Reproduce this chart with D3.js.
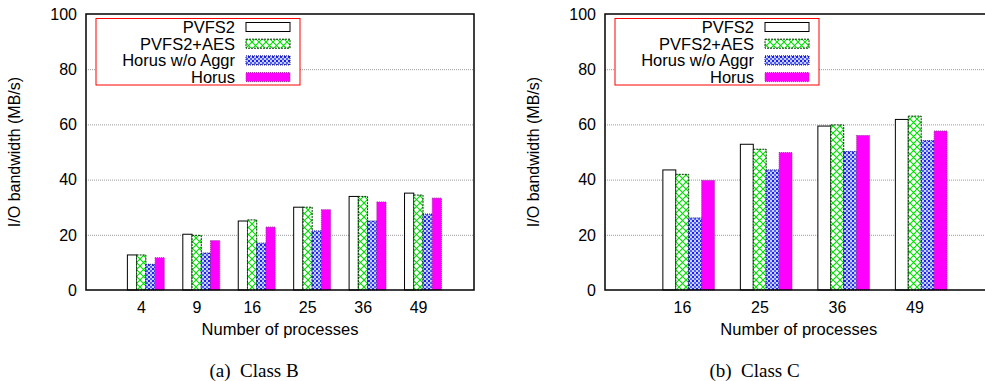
<!DOCTYPE html>
<html>
<head>
<meta charset="utf-8">
<script src="https://cdn.jsdelivr.net/npm/d3@7/dist/d3.min.js"></script>
<style>
  body { margin: 0; background: #fff; }
  text { font-family: "Liberation Sans", Arial, sans-serif; fill: #000; }
</style>
</head>
<body>
<div id="chart"></div>
<script>
// series and values
const seriesNames = ['PVFS2', 'PVFS2+AES', 'Horus w/o Aggr', 'Horus'];

const classBProcs = ['4', '9', '16', '25', '36', '49'];
const classBPvfs2 = [12.7, 20.2, 25.0, 30.0, 33.9, 35.1];
const classBPvfs2Aes = [12.7, 19.8, 25.4, 30.0, 33.9, 34.4];
const classBHorusNoAggr = [9.3, 13.4, 17.0, 21.4, 25.0, 27.5];
const classBHorus = [11.7, 17.9, 22.8, 29.1, 31.9, 33.3];

const classCProcs = ['16', '25', '36', '49'];
const classCPvfs2 = [43.5, 52.8, 59.4, 61.8];
const classCPvfs2Aes = [41.9, 51.0, 59.8, 63.0];
const classCHorusNoAggr = [26.1, 43.5, 50.2, 54.1];
const classCHorus = [39.7, 49.8, 56.0, 57.6];

const yTicks = [0, 20, 40, 60, 80, 100];

const W = 985, H = 381;

const svg = d3.select('#chart')
  .append('svg')
  .attr('width', W)
  .attr('height', H);

// fill patterns like gnuplot's
const defs = svg.append('defs');

const pg = defs.append('pattern')
  .attr('id', 'pat-green')
  .attr('patternUnits', 'userSpaceOnUse')
  .attr('width', 7).attr('height', 7);
pg.append('rect').attr('width', 7).attr('height', 7).attr('fill', '#fff');
pg.append('path').attr('d', 'M0,0L7,7M7,0L0,7')
  .attr('stroke', '#00e000').attr('stroke-width', 1.1);

const pb = defs.append('pattern')
  .attr('id', 'pat-blue')
  .attr('patternUnits', 'userSpaceOnUse')
  .attr('width', 4).attr('height', 4);
pb.append('rect').attr('width', 4).attr('height', 4).attr('fill', '#c8d0ff');
pb.append('rect').attr('width', 2).attr('height', 2).attr('fill', '#2020f0');
pb.append('rect').attr('x', 2).attr('y', 2).attr('width', 2).attr('height', 2).attr('fill', '#5060ff');

const styles = [
  { fill: '#fff', stroke: '#000', dash: null },
  { fill: 'url(#pat-green)', stroke: '#003300', dash: '2,1' },
  { fill: 'url(#pat-blue)', stroke: '#000088', dash: '1,1' },
  { fill: '#ff00ff', stroke: '#993399', dash: '1,1' }
];

function drawPanel(cfg) {
  const { left, right, top, bottom, procs, series, caption } = cfg;
  const n = procs.length;

  const x = d3.scaleLinear().domain([-1, n]).range([left, right]);
  const y = d3.scaleLinear().domain([0, 100]).range([bottom, top]);
  const unit = x(1) - x(0);
  const barW = unit / 6;
  const off = 0.08; // cluster sits a little right of its label

  const g = svg.append('g');

  // dotted grid
  g.append('g')
    .attr('transform', `translate(${left},0)`)
    .call(d3.axisLeft(y).tickValues([20, 40, 60, 80]).tickSize(-(right - left)).tickFormat(''))
    .call(s => s.select('.domain').remove())
    .selectAll('line')
    .attr('stroke', '#999')
    .attr('stroke-width', 1)
    .attr('stroke-dasharray', '1,1');

  // y tick labels
  g.selectAll('.ylab')
    .data(yTicks)
    .join('text')
    .attr('x', left - 9)
    .attr('y', d => y(d))
    .attr('dy', '0.36em')
    .attr('text-anchor', 'end')
    .style('font-size', '16px')
    .text(d => d);

  // bars
  series.forEach((vals, j) => {
    const st = styles[j];
    g.selectAll(null)
      .data(vals)
      .join('rect')
      .attr('x', (d, i) => x(i + off) - 2 * barW + j * barW)
      .attr('y', d => y(d))
      .attr('width', barW)
      .attr('height', d => y(0) - y(d))
      .attr('fill', st.fill)
      .attr('stroke', st.stroke)
      .attr('stroke-width', 1)
      .attr('stroke-dasharray', st.dash);
  });

  // x tick labels
  g.selectAll('.xlab')
    .data(procs)
    .join('text')
    .attr('x', (d, i) => x(i))
    .attr('y', bottom + 23)
    .attr('text-anchor', 'middle')
    .style('font-size', '16px')
    .text(d => d);

  // frame
  g.append('rect')
    .attr('x', left).attr('y', top)
    .attr('width', right - left).attr('height', bottom - top)
    .attr('fill', 'none')
    .attr('stroke', '#000')
    .attr('stroke-width', 1.5);

  // legend with white background
  const lg = g.append('g');
  lg.append('rect')
    .attr('x', left + 10).attr('y', 18.5)
    .attr('width', 204).attr('height', 66.5)
    .attr('fill', '#fff')
    .attr('stroke', '#ff0000')
    .attr('stroke-width', 1);
  seriesNames.forEach((name, j) => {
    const cy = 27 + j * 16.7;
    lg.append('text')
      .attr('x', left + 149)
      .attr('y', cy)
      .attr('dy', '0.36em')
      .attr('text-anchor', 'end')
      .style('font-size', '16.5px')
      .text(name);
    lg.append('rect')
      .attr('x', left + 160).attr('y', cy - 4.5)
      .attr('width', 44).attr('height', 9)
      .attr('fill', styles[j].fill)
      .attr('stroke', styles[j].stroke)
      .attr('stroke-width', 1)
      .attr('stroke-dasharray', styles[j].dash);
  });

  // axis titles
  g.append('text')
    .attr('transform', `translate(${left - 66},${(top + bottom) / 2}) rotate(-90)`)
    .attr('text-anchor', 'middle')
    .style('font-size', '16px')
    .text('I/O bandwidth (MB/s)');

  g.append('text')
    .attr('x', (left + right) / 2)
    .attr('y', bottom + 45)
    .attr('text-anchor', 'middle')
    .style('font-size', '16.5px')
    .text('Number of processes');

  g.append('text')
    .attr('x', cfg.captionX)
    .attr('y', 377)
    .attr('text-anchor', 'middle')
    .style('font-family', '"Liberation Serif", "Times New Roman", serif')
    .style('font-size', '19px')
    .attr('xml:space', 'preserve')
    .text(caption);
}

drawPanel({
  left: 86, right: 474, top: 14, bottom: 290,
  procs: classBProcs,
  series: [classBPvfs2, classBPvfs2Aes, classBHorusNoAggr, classBHorus],
  caption: '(a)  Class B', captionX: 254
});

drawPanel({
  left: 605, right: 992.5, top: 14, bottom: 290,
  procs: classCProcs,
  series: [classCPvfs2, classCPvfs2Aes, classCHorusNoAggr, classCHorus],
  caption: '(b)  Class C', captionX: 754.5
});
</script>
</body>
</html>
